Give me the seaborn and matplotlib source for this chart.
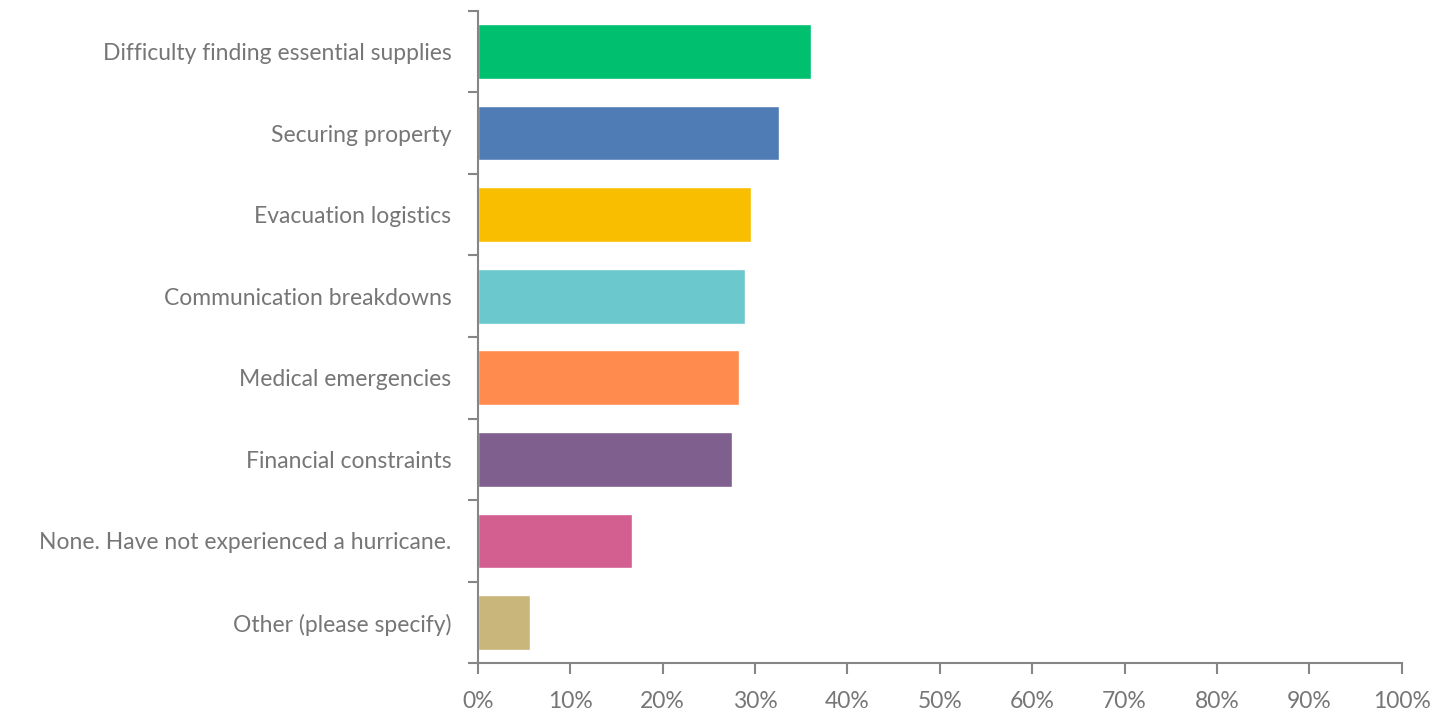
import matplotlib
matplotlib.use("Agg")
import matplotlib.pyplot as plt
import seaborn as sns
import pandas as pd

categories = [
    "Difficulty finding essential supplies",
    "Securing property",
    "Evacuation logistics",
    "Communication breakdowns",
    "Medical emergencies",
    "Financial constraints",
    "None. Have not experienced a hurricane.",
    "Other (please specify)",
]
shares = [36.1, 32.6, 29.6, 28.9, 28.3, 27.5, 16.7, 5.7]
colors = ["#00BF6F", "#507CB6", "#F9BE00", "#6BC8CD",
          "#FF8B4F", "#7F5F8E", "#D25F90", "#C8B67A"]
xticks = list(range(0, 101, 10))
xtick_labels = [f"{t}%" for t in xticks]

df = pd.DataFrame({"category": categories, "share": shares})

sns.set_theme(style="white")
plt.rcParams["font.family"] = ["Lato", "DejaVu Sans"]

text_color = "#767676"
axis_color = "#868686"

fig = plt.figure(figsize=(14.33, 7.10), dpi=100)
ax = fig.add_axes([0.3334, 0.0658, 0.6448, 0.9192])

sns.barplot(data=df, x="share", y="category", hue="category",
            palette=colors, legend=False, width=0.67, saturation=1,
            orient="h", ax=ax)

ax.set_xlim(0, 100)
ax.set_ylim(len(categories) - 0.5, -0.5)
ax.set_xticks(xticks)
ax.set_xticklabels(xtick_labels)
# category boundaries carry the tick marks, centres carry the labels
ax.set_yticks([i - 0.5 for i in range(len(categories) + 1)], minor=False)
ax.set_yticklabels([])
ax.set_yticks(range(len(categories)), minor=True)
ax.set_yticklabels(categories, minor=True)

ax.set_xlabel("")
ax.set_ylabel("")

for side in ["top", "right"]:
    ax.spines[side].set_visible(False)
for side in ["left", "bottom"]:
    ax.spines[side].set_color(axis_color)
    ax.spines[side].set_linewidth(1.5)

ax.tick_params(axis="x", which="major", direction="out", length=8, width=1.5,
               color=axis_color, labelcolor=text_color, labelsize=16.5, pad=12,
               bottom=True)
ax.tick_params(axis="y", which="major", direction="out", length=7, width=1.5,
               color=axis_color, left=True)
ax.tick_params(axis="y", which="minor", length=0, labelcolor=text_color,
               labelsize=16.5, pad=19, left=True)
ax.grid(False)

fig.savefig("out.png", dpi=100, facecolor="white")
